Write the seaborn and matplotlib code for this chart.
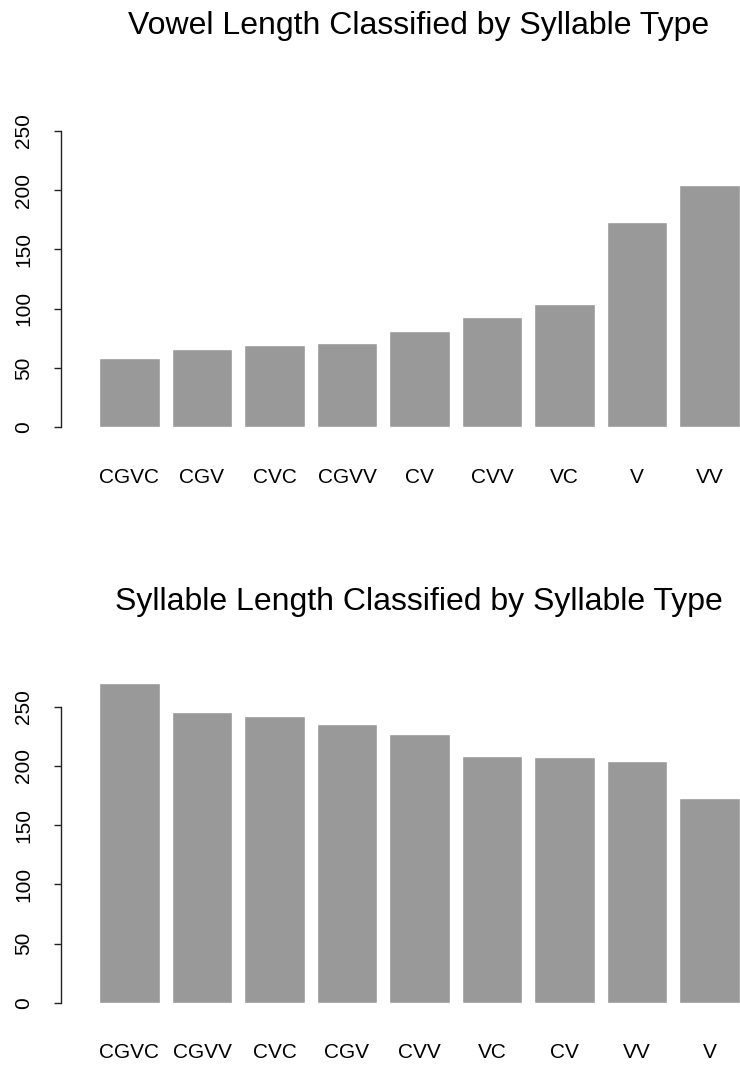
import pandas as pd
import matplotlib.pyplot as plt
import seaborn as sns

sns.set_theme(style="white")
plt.rcParams["font.family"] = ["Liberation Sans", "DejaVu Sans"]
plt.rcParams["text.color"] = "black"
plt.rcParams["xtick.color"] = "black"
plt.rcParams["ytick.color"] = "black"

# vowel length by syllable type (sorted ascending)
vowel_types = ["CGVC", "CGV", "CVC", "CGVV", "CV", "CVV", "VC", "V", "VV"]
vowel_len = [58.8, 66.4, 69.8, 70.7, 80.8, 92.6, 103.6, 172.9, 204.1]

# syllable length by syllable type (sorted descending)
syl_types = ["CGVC", "CGVV", "CVC", "CGV", "CVV", "VC", "CV", "VV", "V"]
syl_len = [270.0, 245.5, 242.1, 235.3, 226.9, 208.3, 207.4, 204.1, 172.8]

W, H = 740, 1068
fig = plt.figure(figsize=(W / 100, H / 100), dpi=100)

# pixel layout (figure px): axis line x, zero line y, y-limit top
left_px = 60.7
px_per_unit = 296.5 / 250


def make_ax(zero_px, ytop):
    h_px = ytop * px_per_unit
    return fig.add_axes([left_px / W, 1 - zero_px / H, (W - left_px) / W, h_px / H])


def draw(ax, cats, vals):
    df = pd.DataFrame({"type": cats, "len": vals})
    sns.barplot(data=df, x="type", y="len", order=cats, color="#999999",
                saturation=1, width=0.835, ax=ax)
    ax.set_xlim(-0.949, 8.421)
    ax.set_xlabel(""); ax.set_ylabel("")
    for s in ["top", "right", "bottom"]:
        ax.spines[s].set_visible(False)
    ax.spines["left"].set_bounds(0, 250)
    ax.spines["left"].set_color("#222222")
    ax.spines["left"].set_linewidth(1.0)
    ax.set_yticks([0, 50, 100, 150, 200, 250])
    ax.set_yticklabels(["0", "50", "100", "150", "200", "250"], rotation=90,
                       va="center", ha="center", fontsize=15, color="black")
    ax.tick_params(axis="y", length=5.3, width=1.0, color="#222222", pad=21.3,
                   left=True)
    ax.tick_params(axis="x", length=0, pad=36)
    for lbl in ax.get_xticklabels():
        lbl.set_fontsize(15)
        lbl.set_va("center")
        lbl.set_color("black")
    ax.grid(False)


ax1 = make_ax(427.3, 260)
draw(ax1, vowel_types, vowel_len)
ax1.set_ylim(0, 260)

ax2 = make_ax(1003.0, 280)
draw(ax2, syl_types, syl_len)
ax2.set_ylim(0, 280)

fig.text(128.3 / W, 1 - 33.7 / H, "Vowel Length Classified by Syllable Type",
         ha="left", va="baseline", fontsize=23, color="black")
fig.text(115 / W, 1 - 610 / H, "Syllable Length Classified by Syllable Type",
         ha="left", va="baseline", fontsize=23, color="black")

fig.savefig("out.png", dpi=100, facecolor="white")
